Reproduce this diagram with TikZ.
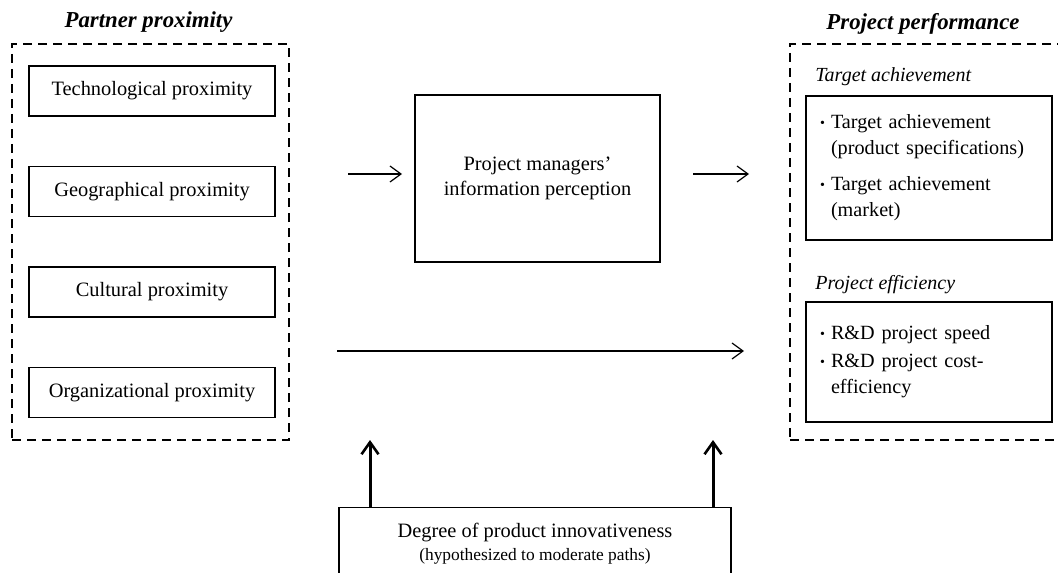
\documentclass[tikz,border=0pt]{standalone}
\usepackage{fontspec}
\setmainfont{Liberation Serif}
\usetikzlibrary{arrows.meta,calc}
\newcommand\mybul{\makebox[5.5pt][l]{\raisebox{0.6pt}{\fontsize{7}{7}\selectfont\textbullet}}}
\tikzset{
 box/.style={draw, line width=0.7pt, inner sep=0pt, align=center, font=\fontsize{10.2}{12.5}\selectfont},
 listbox/.style={draw, line width=0.7pt, inner xsep=7pt, inner ysep=0pt, align=left, text width=109pt, font=\fontsize{10.1}{13}\selectfont},
 grp/.style={draw, line width=0.7pt, dash pattern=on 4.5pt off 3pt, inner sep=0pt},
 ttl/.style={font=\fontsize{11.4}{13}\selectfont\bfseries\itshape},
 sub/.style={font=\fontsize{10}{12}\selectfont\itshape, anchor=west, inner sep=0pt},
 arr/.style={line width=0.6pt, -{Straight Barb[length=5.5pt,width=8pt,line width=0.6pt]}},
 uparr/.style={line width=1.5pt, -{Straight Barb[length=6pt,width=8.5pt,line width=1.3pt]}},
}
\begin{document}
\begin{tikzpicture}[x=0.5pt,y=-0.5pt]
\useasboundingbox (0,0) rectangle (1058,572);
\clip (0,0) rectangle (1058,572);

% left group
\node[grp, minimum width=138.5pt, minimum height=198pt] (pp) at (150.5,242) {};
\node[ttl] (ppt) at (148.5,22) {Partner proximity};
\node[box, minimum width=123pt, minimum height=25pt] (tech) at (152,91) {Technological proximity};
\node[box, minimum width=123pt, minimum height=25pt] (geo) at (152,191.5) {Geographical proximity};
\node[box, minimum width=123pt, minimum height=25pt] (cult) at (152,292) {Cultural proximity};
\node[box, minimum width=123pt, minimum height=25pt] (org) at (152,392.5) {Organizational proximity};

% centre
\node[box, minimum width=122.5pt, minimum height=83.5pt] (pm) at (537.5,178.5) {Project managers’\\information perception};

% right group
\node[grp, minimum width=150pt, minimum height=198pt] (perf) at (940,242) {};
\node[ttl] (perft) at (923,24) {Project performance};
\node[sub] (tal) at (815,77) {Target achievement};
\node[listbox, minimum width=123pt, minimum height=72pt] (ta) at (929,168)
 {\mybul Target achievement\\
  \hspace*{5.5pt}(product specifications)\\[5pt]
  \mybul Target achievement\\
  \hspace*{5.5pt}(market)};
\node[sub] (pel) at (815,285) {Project efficiency};
\node[listbox, minimum width=123pt, minimum height=60pt] (pe) at (929,362)
 {\mybul R\&D project speed\\[1pt]
  \mybul R\&D project cost-\\
  \hspace*{5.5pt}efficiency};

% bottom
\node[draw, line width=0.7pt, minimum width=196pt, minimum height=60pt, anchor=north, inner sep=0pt] (dpi) at (535,507) {};
\node[align=center, font=\fontsize{10.2}{11.5}\selectfont] (dpit) at (535,544)
 {Degree of product innovativeness\\{\fontsize{8.7}{11.5}\selectfont (hypothesized to moderate paths)}};

% arrows
\coordinate (a1s) at (348,174); \coordinate (a1e) at (402,174);
\coordinate (a2s) at (693,174); \coordinate (a2e) at (749,174);
\coordinate (a3s) at (337,351); \coordinate (a3e) at (744,351);
\coordinate (u1e) at (370,440); \coordinate (u2e) at (713,440);
\draw[arr] (a1s) -- (a1e);
\draw[arr] (a2s) -- (a2e);
\draw[arr] (a3s) -- (a3e);
\draw[uparr] (u1e |- dpi.north) -- (u1e);
\draw[uparr] (u2e |- dpi.north) -- (u2e);
\end{tikzpicture}
\end{document}
